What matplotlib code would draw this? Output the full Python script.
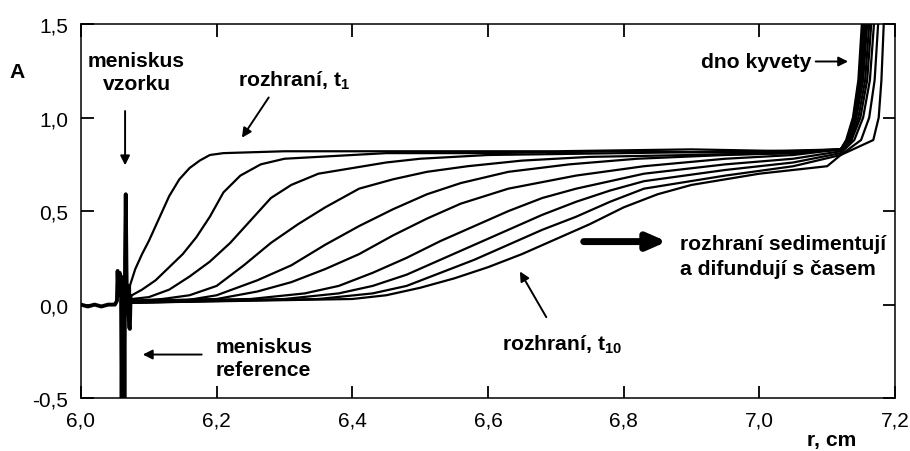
import matplotlib
matplotlib.use("Agg")
from matplotlib import pyplot as plt
from matplotlib.ticker import FuncFormatter

plt.rcParams['font.family'] = ['Liberation Sans', 'DejaVu Sans']
plt.rcParams['mathtext.fontset'] = 'custom'
plt.rcParams['mathtext.rm'] = 'Liberation Sans'
plt.rcParams['xtick.direction'] = 'in'
plt.rcParams['ytick.direction'] = 'in'
plt.rcParams['xtick.top'] = True
plt.rcParams['ytick.right'] = True
plt.rcParams['xtick.major.size'] = 9
plt.rcParams['ytick.major.size'] = 9
plt.rcParams['xtick.major.width'] = 1.3
plt.rcParams['ytick.major.width'] = 1.3

# radial position r (cm) and absorbance A for the 10 scans t1..t10
r_t1 = [6.072, 6.08, 6.09, 6.10, 6.11, 6.12, 6.13, 6.145, 6.16, 6.175, 6.19, 6.21, 6.3, 6.5, 6.7, 6.9, 7.05, 7.12]
a_t1 = [0.10, 0.19, 0.27, 0.34, 0.42, 0.50, 0.58, 0.67, 0.73, 0.77, 0.80, 0.81, 0.82, 0.82, 0.82, 0.83, 0.82, 0.83]
r_t2 = [6.075, 6.09, 6.11, 6.13, 6.15, 6.17, 6.19, 6.21, 6.235, 6.265, 6.3, 6.35, 6.45, 6.6, 6.8, 7.0, 7.12]
a_t2 = [0.05, 0.08, 0.13, 0.20, 0.27, 0.36, 0.47, 0.60, 0.69, 0.75, 0.78, 0.79, 0.81, 0.81, 0.82, 0.81, 0.83]
r_t3 = [6.075, 6.10, 6.13, 6.16, 6.19, 6.22, 6.25, 6.28, 6.31, 6.35, 6.40, 6.45, 6.50, 6.60, 6.80, 7.00, 7.12]
a_t3 = [0.03, 0.04, 0.08, 0.15, 0.23, 0.33, 0.45, 0.57, 0.64, 0.70, 0.73, 0.76, 0.78, 0.80, 0.81, 0.82, 0.83]
r_t4 = [6.075, 6.12, 6.16, 6.20, 6.24, 6.28, 6.32, 6.36, 6.41, 6.46, 6.51, 6.57, 6.65, 6.75, 6.90, 7.05, 7.12]
a_t4 = [0.02, 0.03, 0.05, 0.10, 0.21, 0.33, 0.43, 0.52, 0.62, 0.67, 0.71, 0.74, 0.77, 0.79, 0.80, 0.81, 0.83]
r_t5 = [6.075, 6.15, 6.20, 6.26, 6.31, 6.36, 6.41, 6.46, 6.51, 6.56, 6.63, 6.72, 6.82, 6.95, 7.05, 7.12]
a_t5 = [0.02, 0.02, 0.05, 0.13, 0.21, 0.32, 0.42, 0.51, 0.59, 0.65, 0.71, 0.75, 0.78, 0.80, 0.81, 0.83]
r_t6 = [6.075, 6.20, 6.26, 6.31, 6.36, 6.41, 6.46, 6.51, 6.56, 6.63, 6.73, 6.83, 6.95, 7.05, 7.12]
a_t6 = [0.02, 0.03, 0.07, 0.12, 0.19, 0.27, 0.37, 0.46, 0.54, 0.62, 0.69, 0.74, 0.78, 0.80, 0.83]
r_t7 = [6.075, 6.25, 6.33, 6.38, 6.43, 6.48, 6.53, 6.58, 6.63, 6.68, 6.73, 6.83, 6.95, 7.05, 7.12]
a_t7 = [0.02, 0.03, 0.06, 0.10, 0.17, 0.25, 0.34, 0.42, 0.50, 0.57, 0.62, 0.70, 0.75, 0.78, 0.82]
r_t8 = [6.075, 6.30, 6.38, 6.43, 6.48, 6.53, 6.58, 6.63, 6.68, 6.73, 6.78, 6.83, 6.95, 7.05, 7.12]
a_t8 = [0.01, 0.03, 0.06, 0.10, 0.16, 0.24, 0.32, 0.40, 0.48, 0.55, 0.61, 0.66, 0.72, 0.76, 0.81]
r_t9 = [6.075, 6.35, 6.43, 6.48, 6.53, 6.58, 6.63, 6.68, 6.73, 6.78, 6.83, 6.95, 7.05, 7.12]
a_t9 = [0.01, 0.03, 0.06, 0.10, 0.17, 0.24, 0.32, 0.40, 0.47, 0.55, 0.62, 0.69, 0.74, 0.80]
r_t10 = [6.075, 6.40, 6.45, 6.50, 6.55, 6.60, 6.65, 6.70, 6.75, 6.80, 6.85, 6.90, 6.95, 7.00, 7.05, 7.10, 7.12]
a_t10 = [0.01, 0.03, 0.05, 0.09, 0.14, 0.20, 0.27, 0.35, 0.43, 0.52, 0.59, 0.64, 0.67, 0.70, 0.72, 0.74, 0.80]

# steep rise at the cell bottom (r where each scan reaches wall_a)
wall_a = [0.88, 1.00, 1.20, 1.55]
wall_r = [
    [7.128, 7.138, 7.146, 7.152],
    [7.129, 7.139, 7.147, 7.154],
    [7.130, 7.140, 7.149, 7.156],
    [7.131, 7.142, 7.151, 7.158],
    [7.132, 7.143, 7.153, 7.160],
    [7.134, 7.146, 7.156, 7.163],
    [7.136, 7.149, 7.159, 7.166],
    [7.140, 7.153, 7.163, 7.170],
    [7.150, 7.162, 7.170, 7.176],
    [7.168, 7.176, 7.180, 7.184],
]

# baseline and meniscus spikes (common to all scans)
men_r = [6.000, 6.010, 6.020, 6.030, 6.040, 6.050, 6.053, 6.054, 6.055, 6.057, 6.058, 6.059,
         6.060, 6.061, 6.062, 6.063, 6.064, 6.065, 6.066, 6.067, 6.068, 6.069, 6.070,
         6.071, 6.072, 6.073, 6.075, 6.080]
men_a = [0.00, -0.01, 0.00, -0.01, 0.00, 0.00, 0.02, 0.18, 0.08, 0.17, 0.05, 0.14,
         -0.60, 0.12, -0.60, 0.15, -0.60, 0.25, 0.59, 0.20, -0.05, 0.10, 0.00,
         -0.12, -0.13, 0.03, 0.02, 0.02]

x_ticks = [6.0, 6.2, 6.4, 6.6, 6.8, 7.0, 7.2]
y_ticks = [-0.5, 0.0, 0.5, 1.0, 1.5]

curves = [(r_t1, a_t1), (r_t2, a_t2), (r_t3, a_t3), (r_t4, a_t4), (r_t5, a_t5),
          (r_t6, a_t6), (r_t7, a_t7), (r_t8, a_t8), (r_t9, a_t9), (r_t10, a_t10)]

fig = plt.figure(figsize=(9.1, 4.52), dpi=100)
ax = fig.add_axes([0.089, 0.117, 0.8945, 0.8275])

for (r, a), wr in zip(curves, wall_r):
    ax.plot(list(r) + wr, list(a) + wall_a, color='black', lw=1.6,
            solid_joinstyle='round')
    ax.plot([6.072, r[0]], [0.02, a[0]], color='black', lw=1.6)

ax.plot(men_r, men_a, color='black', lw=2.8, solid_joinstyle='round')

ax.set_xlim(6.0, 7.2)
ax.set_ylim(-0.5, 1.5)
ax.set_xticks(x_ticks)
ax.set_yticks(y_ticks)
comma = FuncFormatter(lambda v, p: f"{v:.1f}".replace('.', ','))
ax.xaxis.set_major_formatter(comma)
ax.yaxis.set_major_formatter(comma)
ax.tick_params(which='major', direction='in', length=9, width=1.3,
               top=True, right=True, bottom=True, left=True,
               labelsize=15, pad=9)
for s in ax.spines.values():
    s.set_linewidth(1.1)

bold = dict(fontsize=15.2, fontweight='bold')
arrow = dict(arrowstyle='-|>', color='black', lw=1.4, mutation_scale=14)

fig.text(0.019, 0.84, 'A', ha='center', va='center', **bold)
fig.text(0.914, 0.004, 'r, cm', ha='center', va='bottom', **bold)

ax.text(6.082, 1.245, 'meniskus\nvzorku', ha='center', va='center',
        linespacing=1.3, **bold)
ax.annotate('', xy=(6.065, 0.73), xytext=(6.065, 1.05), arrowprops=arrow)

ax.text(6.231, 1.20, r'rozhraní, t$_{\mathregular{1}}$', ha='left', va='center', **bold)
ax.annotate('', xy=(6.235, 0.88), xytext=(6.279, 1.12), arrowprops=arrow)

ax.text(7.077, 1.30, 'dno kyvety', ha='right', va='center', **bold)
ax.annotate('', xy=(7.135, 1.30), xytext=(7.079, 1.30), arrowprops=arrow)

ax.annotate('', xy=(6.868, 0.337), xytext=(6.737, 0.337),
            arrowprops=dict(arrowstyle='-|>,head_length=0.8,head_width=0.35',
                            color='black', lw=5, mutation_scale=14))
ax.text(6.883, 0.26, 'rozhraní sedimentují\na difundují s časem', ha='left',
        va='center', linespacing=1.35, **bold)

ax.text(6.198, -0.285, 'meniskus\nreference', ha='left', va='center',
        linespacing=1.3, **bold)
ax.annotate('', xy=(6.087, -0.267), xytext=(6.182, -0.267), arrowprops=arrow)

ax.text(6.62, -0.21, r'rozhraní, t$_{\mathregular{10}}$', ha='left', va='center', **bold)
ax.annotate('', xy=(6.645, 0.19), xytext=(6.688, -0.08), arrowprops=arrow)

fig.savefig('out.png', dpi=100)
